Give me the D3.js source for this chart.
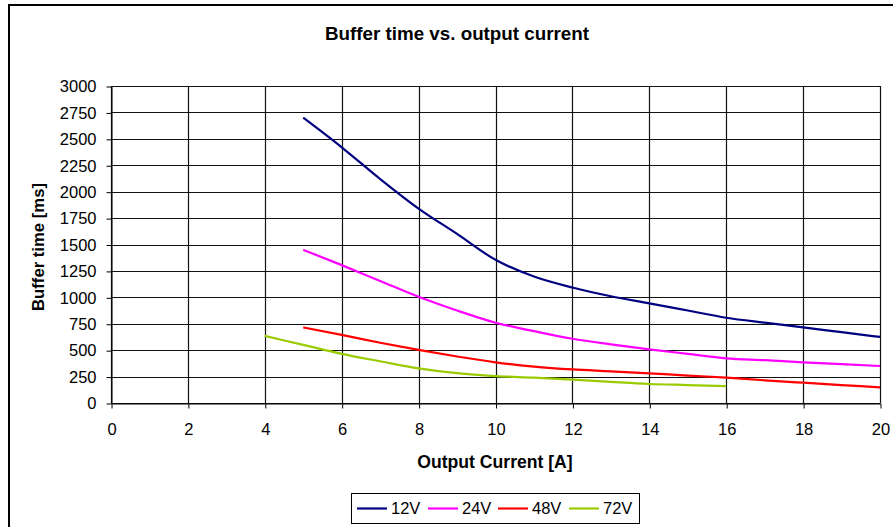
<!DOCTYPE html>
<html><head><meta charset="utf-8">
<script src="https://cdn.jsdelivr.net/npm/d3@7/dist/d3.min.js"></script>
<style>body{margin:0;background:#fff}svg{display:block;font-family:"Liberation Sans",Arial,sans-serif}</style>
</head><body><svg id="c" width="893" height="527"></svg>
<script>
const seriesNames = ["12V","24V","48V","72V"];
const seriesColors = ["#000080","#FF00FF","#FF0000","#99CC00"];
const x12 = [5,6,7,8,9,10,11,12,13,14,15,16,17,18,19,20];
const y12 = [2700,2420,2120,1840,1600,1355,1197,1093,1010,943,875,807,760,716,670,625];
const x24 = [5,6,7,8,9,10,11,12,13,14,15,16,17,18,19,20];
const y24 = [1450,1305,1155,1005,875,760,680,608,555,508,465,423,405,385,368,350];
const x48 = [5,6,7,8,9,10,11,12,13,14,15,16,17,18,19,20];
const y48 = [715,645,570,502,440,385,345,318,300,280,260,240,215,192,170,148];
const x72 = [4,5,6,7,8,9,10,11,12,13,14,15,16];
const y72 = [635,550,465,395,328,282,255,240,222,200,180,170,160];
const xTicks = [0,2,4,6,8,10,12,14,16,18,20];
const yTicks = [0,250,500,750,1000,1250,1500,1750,2000,2250,2500,2750,3000];
const seriesX = [x12,x24,x48,x72];
const seriesY = [y12,y24,y48,y72];

const svg = d3.select("#c");
const L=111,R=880,T=86,B=403;
const x = d3.scaleLinear().domain([0,20]).range([L,R]);
const y = d3.scaleLinear().domain([0,3000]).range([B,T]);

// outer frame
svg.append("path").attr("d","M9,527 L9,5 L893,5").attr("fill","none").attr("stroke","#000").attr("stroke-width",2);

// grid
const g = svg.append("g");
g.selectAll(".hg").data(yTicks).join("line").attr("x1",L).attr("x2",R)
 .attr("y1",d=>Math.round(y(d))+0.5).attr("y2",d=>Math.round(y(d))+0.5).attr("stroke","#111").attr("stroke-width",1.2);
g.selectAll(".vg").data(xTicks).join("line").attr("y1",T).attr("y2",B)
 .attr("x1",d=>Math.round(x(d))+0.5).attr("x2",d=>Math.round(x(d))+0.5).attr("stroke","#111").attr("stroke-width",1.2);

// axes
const fmt = d3.format("d");
const xa = svg.append("g").attr("transform",`translate(0.5,${Math.round(B)+0.5})`)
 .call(d3.axisBottom(x).tickValues(xTicks).tickFormat(fmt).tickSize(5).tickSizeOuter(0).tickPadding(15));
const ya = svg.append("g").attr("transform",`translate(${Math.round(L)+0.5},0.5)`)
 .call(d3.axisLeft(y).tickValues(yTicks).tickFormat(fmt).tickSize(5).tickSizeOuter(0).tickPadding(10));
[xa,ya].forEach(a=>{a.select(".domain").attr("stroke","#000");a.selectAll(".tick line").attr("stroke","#000");
 a.selectAll("text").attr("font-size",16.5).attr("font-family","Liberation Sans, Arial, sans-serif").attr("fill","#000");});

// lines
const line = d3.line().x(d=>x(d[0])).y(d=>y(d[1])).curve(d3.curveMonotoneX);
seriesNames.forEach((n,i)=>{
  const pts = seriesX[i].map((v,j)=>[v,seriesY[i][j]]);
  svg.append("path").datum(pts).attr("d",line).attr("fill","none").attr("stroke",seriesColors[i]).attr("stroke-width",2.2);
});

// titles
svg.append("text").attr("x",457).attr("y",40).attr("text-anchor","middle").attr("font-weight","bold").attr("font-size",18.8).text("Buffer time vs. output current");
svg.append("text").attr("x",495).attr("y",468).attr("text-anchor","middle").attr("font-weight","bold").attr("font-size",17.6).text("Output Current [A]");
svg.append("text").attr("transform","translate(44,247) rotate(-90)").attr("text-anchor","middle").attr("font-weight","bold").attr("font-size",16.7).text("Buffer time [ms]");

// legend
const lg = svg.append("g");
lg.append("rect").attr("x",351.5).attr("y",493.5).attr("width",288).attr("height",30).attr("fill","#fff").attr("stroke","#000").attr("stroke-width",1);
const lx = [357,428,498,569];
seriesNames.forEach((n,i)=>{
  lg.append("line").attr("x1",lx[i]).attr("x2",lx[i]+30).attr("y1",508.5).attr("y2",508.5).attr("stroke",seriesColors[i]).attr("stroke-width",2.2);
  lg.append("text").attr("x",lx[i]+34).attr("y",513.5).attr("font-size",16.5).text(n);
});
</script></body></html>
